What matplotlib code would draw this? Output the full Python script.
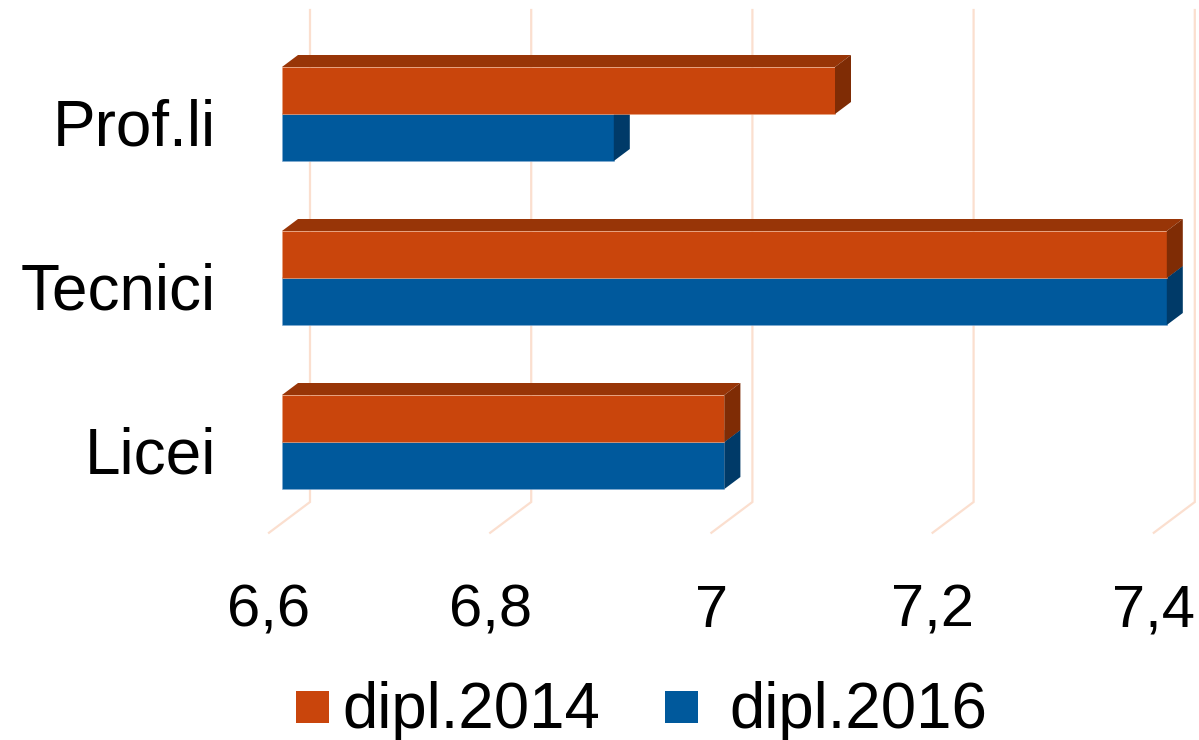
import matplotlib
matplotlib.use('Agg')
import matplotlib.pyplot as plt
from matplotlib.patches import Polygon, Rectangle

categories = ['Licei', 'Tecnici', 'Prof.li']
dipl_2014 = [7.0, 7.4, 7.1]
dipl_2016 = [7.0, 7.4, 6.9]
series_names = ['dipl.2014', 'dipl.2016']
x_ticks = [6.6, 6.8, 7.0, 7.2, 7.4]
x_tick_labels = ['6,6', '6,8', '7', '7,2', '7,4']
x_min = 6.6

FONT = ['Liberation Sans', 'DejaVu Sans']
plt.rcParams['font.family'] = FONT

W, H = 1199, 740
fig = plt.figure(figsize=(W / 100, H / 100), dpi=100)
ax = fig.add_axes([0, 0, 1, 1])

PX_PER_X = 1106.0     # pixels per data unit (x)
PX_PER_CAT = 164.0    # pixels per category
FRONT_X0 = 282        # pixel of x_min on bar front plane
CAT0_PX = 442         # pixel row of first category centre

ax.set_xlim(x_min - FRONT_X0 / PX_PER_X, x_min + (W - FRONT_X0) / PX_PER_X)
ax.set_ylim((CAT0_PX - H) / PX_PER_CAT, CAT0_PX / PX_PER_CAT)
ax.axis('off')


def py2d(py):
    return (CAT0_PX - py) / PX_PER_CAT


def depth(d):
    return d / PX_PER_X, 0.75 * d / PX_PER_CAT


# gridlines (back wall + floor)
grid_col = '#FBDFCF'
bx, by = depth(28)
fx, fy = depth(-13)
floor_back = py2d(502)
for v in x_ticks:
    ax.plot([v + bx, v + bx, v + fx], [py2d(10), floor_back, floor_back + fy - by],
            color=grid_col, lw=1.6, zorder=1, solid_joinstyle='miter')

bar_h = 47 / PX_PER_CAT
ys = list(range(len(categories)))

front_cols = ['#C9450C', '#00599C']
top_cols = ['#983507', '#00437A']
side_cols = ['#7F2C05', '#003A68']
edge_cols = ['#E9A27C', '#7FAAD2']

ddx, ddy = depth(16)

series = [dipl_2014, dipl_2016]
offsets = [bar_h / 2, -bar_h / 2]
# draw blue (lower) first, then orange
for s in [1, 0]:
    vals = series[s]
    centers = [y + offsets[s] for y in ys]
    ax.barh(centers, [v - x_min for v in vals], left=x_min, height=bar_h,
            color=front_cols[s], edgecolor=edge_cols[s], linewidth=0.4,
            zorder=3 + (1 - s) * 3, label=series_names[s])
    for c, v in zip(centers, vals):
        yb, yt = c - bar_h / 2, c + bar_h / 2
        top = Polygon([(x_min, yt), (v, yt), (v + ddx, yt + ddy), (x_min + ddx, yt + ddy)],
                      closed=True, facecolor=top_cols[s], edgecolor='none',
                      zorder=4 + (1 - s) * 3)
        side = Polygon([(v, yb), (v, yt), (v + ddx, yt + ddy), (v + ddx, yb + ddy)],
                       closed=True, facecolor=side_cols[s], edgecolor='none',
                       zorder=4 + (1 - s) * 3)
        ax.add_patch(top)
        ax.add_patch(side)

# x tick labels on floor front
for v, lab in zip(x_ticks, x_tick_labels):
    ax.text(v + fx, py2d(627), lab, ha='center', va='baseline', fontsize=43,
            color='black', zorder=10)

# category labels
lab_x = x_min - (FRONT_X0 - 216) / PX_PER_X
for y, lab in zip(ys, categories):
    ax.text(lab_x, y - 32 / PX_PER_CAT, lab, ha='right', va='baseline', fontsize=46,
            color='black', zorder=10)

# legend
leg_items = [(296, 342, series_names[0], front_cols[0]),
             (665, 729, series_names[1], front_cols[1])]
for sx, tx, name, col in leg_items:
    fig.patches.append(Rectangle((sx / W, 1 - 723 / H), 33 / W, 32 / H,
                                 transform=fig.transFigure, facecolor=col,
                                 edgecolor='none'))
    fig.text(tx / W, 1 - 728 / H, name, ha='left', va='baseline', fontsize=45.8,
             color='black')

fig.savefig('out.png', dpi=100, facecolor='white')
